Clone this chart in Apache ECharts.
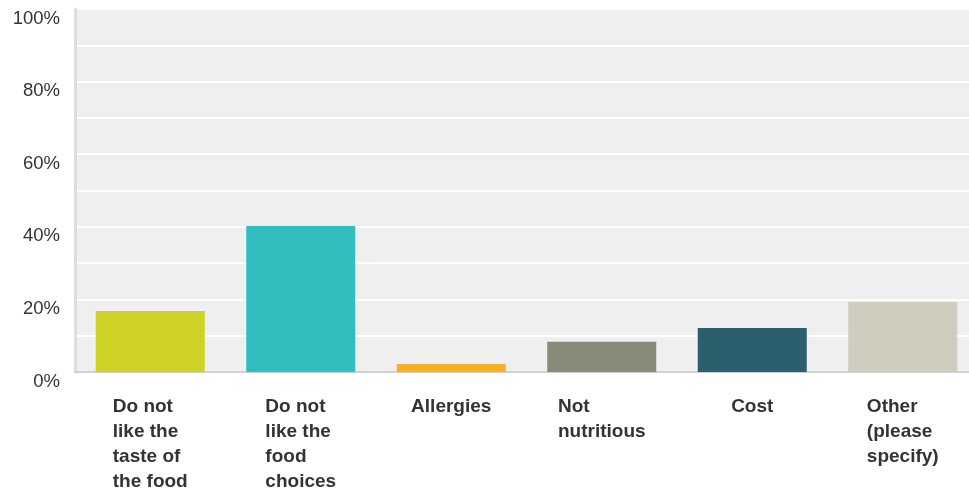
<!DOCTYPE html>
<html>
<head>
<meta charset="utf-8">
<script src="https://cdn.jsdelivr.net/npm/echarts@6.0.0/dist/echarts.min.js"></script>
<style>
  html, body { margin: 0; padding: 0; background: #fff; }
  #chart { width: 969px; height: 494px; }
</style>
</head>
<body>
<div id="chart"></div>
<script>
// categories (line breaks as in the picture)
const categories = [
  ['Do not', 'like the', 'taste of', 'the food'],
  ['Do not', 'like the', 'food', 'choices'],
  ['Allergies'],
  ['Not', 'nutritious'],
  ['Cost'],
  ['Other', '(please', 'specify)']
];
const values = [16.8, 40.2, 2.2, 8.3, 12.1, 19.3];
const barColors = ['#cfd328', '#32bebf', '#f8b022', '#898a77', '#2c5f6d', '#cfcdbd'];
const yTickLabels = ['0%', '20%', '40%', '60%', '80%', '100%'];

const chart = echarts.init(document.getElementById('chart'));

chart.setOption({
  animation: false,
  grid: {
    left: 75, right: -9, top: 9, bottom: 122,
    show: true, backgroundColor: '#efefef', borderWidth: 0,
    outerBoundsMode: 'none'
  },
  xAxis: {
    type: 'category',
    data: categories.map(c => c.join('\n')),
    axisLine: { lineStyle: { color: '#d0d0d0', width: 2 } },
    axisTick: { show: false },
    axisLabel: {
      interval: 0,
      margin: 22,
      formatter: v => v.split('\n').map(l => '{l|' + l + '}').join('\n'),
      rich: {
        l: { align: 'left', fontFamily: 'Liberation Sans, Arial, sans-serif', fontWeight: 'bold', fontSize: 19, lineHeight: 25, color: '#333' }
      }
    }
  },
  yAxis: {
    type: 'value',
    min: 0, max: 100, interval: 10,
    axisLine: { show: true, lineStyle: { color: '#dedede', width: 3 } },
    axisTick: { show: false },
    splitLine: { lineStyle: { color: '#ffffff', width: 2 } },
    axisLabel: {
      margin: 15,
      verticalAlign: 'top',
      fontFamily: 'Liberation Sans, Arial, sans-serif',
      fontSize: 18.5,
      color: '#333',
      formatter: v => yTickLabels.includes(v + '%') ? v + '%' : ''
    }
  },
  series: [{
    type: 'bar',
    data: values.map((v, i) => ({ value: v, itemStyle: { color: barColors[i] } })),
    barWidth: 109
  }]
});
</script>
</body>
</html>
